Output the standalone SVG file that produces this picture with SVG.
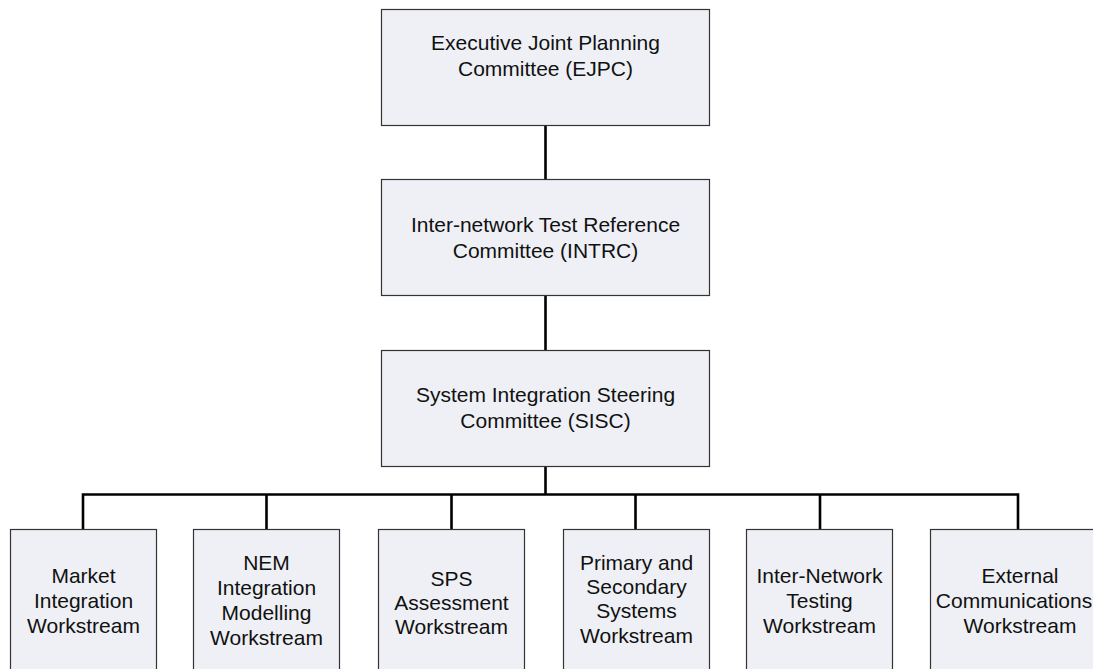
<svg xmlns="http://www.w3.org/2000/svg" width="1093" height="669" viewBox="0 0 1093 669">
<style>
.box{fill:#eef0f5;stroke:#333;stroke-width:1.2}
.t{font-family:"Liberation Sans",Arial,sans-serif;font-size:21px;fill:#111;text-anchor:middle}
.c{stroke:#000;stroke-width:2.6;fill:none}
</style>
<rect width="1093" height="669" fill="#fff"/>
<g id="connectors">
<path class="c" d="M545.5 125V179M545.5 295V350M545.5 466V494.5"/>
<path class="c" d="M83 529V494.5H1018V529M266.5 494.5V529M451.5 494.5V529M635.5 494.5V529M820 494.5V529"/>
</g>
<g id="ejpc">
<rect class="box" x="381.5" y="9.5" width="328" height="116"/>
<text class="t" x="545.5" y="50">Executive Joint Planning</text>
<text class="t" x="545.5" y="76">Committee (EJPC)</text>
</g>
<g id="intrc">
<rect class="box" x="381.5" y="179.5" width="328" height="116"/>
<text class="t" x="545.5" y="232">Inter-network Test Reference</text>
<text class="t" x="545.5" y="258">Committee (INTRC)</text>
</g>
<g id="sisc">
<rect class="box" x="381.5" y="350.5" width="328" height="116"/>
<text class="t" x="545.5" y="402">System Integration Steering</text>
<text class="t" x="545.5" y="428">Committee (SISC)</text>
</g>
<g id="market">
<rect class="box" x="10.5" y="529.5" width="146" height="150"/>
<text class="t" x="83.5" y="583">Market</text>
<text class="t" x="83.5" y="608">Integration</text>
<text class="t" x="83.5" y="633">Workstream</text>
</g>
<g id="nem">
<rect class="box" x="193.5" y="529.5" width="146" height="150"/>
<text class="t" x="266.5" y="570">NEM</text>
<text class="t" x="266.5" y="595">Integration</text>
<text class="t" x="266.5" y="620">Modelling</text>
<text class="t" x="266.5" y="645">Workstream</text>
</g>
<g id="sps">
<rect class="box" x="378.5" y="529.5" width="146" height="150"/>
<text class="t" x="451.5" y="586">SPS</text>
<text class="t" x="451.5" y="610">Assessment</text>
<text class="t" x="451.5" y="634">Workstream</text>
</g>
<g id="pss">
<rect class="box" x="563.5" y="529.5" width="146" height="150"/>
<text class="t" x="636.5" y="570">Primary and</text>
<text class="t" x="636.5" y="594">Secondary</text>
<text class="t" x="636.5" y="618">Systems</text>
<text class="t" x="636.5" y="643">Workstream</text>
</g>
<g id="int">
<rect class="box" x="746.5" y="529.5" width="146" height="150"/>
<text class="t" x="819.5" y="583">Inter-Network</text>
<text class="t" x="819.5" y="608">Testing</text>
<text class="t" x="819.5" y="633">Workstream</text>
</g>
<g id="ext">
<rect class="box" x="930.5" y="529.5" width="176" height="150"/>
<text class="t" x="1020" y="583">External</text>
<text class="t" x="1014" y="608">Communications</text>
<text class="t" x="1020" y="633">Workstream</text>
</g>
</svg>
